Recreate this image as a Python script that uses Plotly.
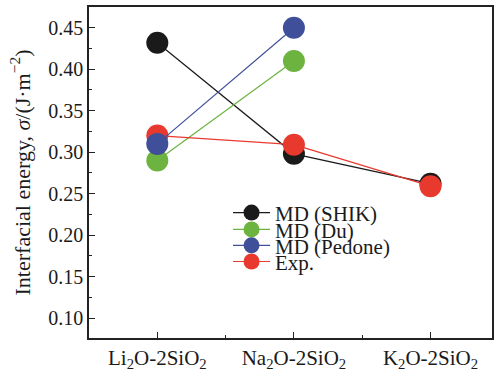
import plotly.graph_objects as go

categories = ["Li<sub>2</sub>O-2SiO<sub>2</sub>", "Na<sub>2</sub>O-2SiO<sub>2</sub>", "K<sub>2</sub>O-2SiO<sub>2</sub>"]
x_pos = [0, 1, 2]

shik = [0.432, 0.298, 0.262]
du = [0.290, 0.410]
pedone = [0.310, 0.450]
exp = [0.320, 0.309, 0.259]

y_ticks = [0.10, 0.15, 0.20, 0.25, 0.30, 0.35, 0.40, 0.45]

# (name, values, colour, legend id) - drawing order matters for overlap
series = [
    ("MD (SHIK)", shik, "#1a1a1a", "legend"),
    ("MD (Du)", du, "#6db33f", "legend2"),
    ("Exp.", exp, "#e8392f", "legend4"),
    ("MD (Pedone)", pedone, "#3f4f9a", "legend3"),
]

fig = go.Figure()
for name, vals, col, leg in series:
    fig.add_trace(go.Scatter(
        x=x_pos[:len(vals)], y=vals, name=name, mode="lines+markers",
        line=dict(color=col, width=1.2),
        marker=dict(color=col, size=22),
        legend=leg,
    ))

font_family = "Liberation Serif"
leg_rows = {"legend": 0.378, "legend2": 0.327, "legend3": 0.279, "legend4": 0.230}
legend_common = dict(x=0.345, xanchor="left", yanchor="middle",
                     bgcolor="rgba(0,0,0,0)", font=dict(size=21, family=font_family),
                     itemsizing="trace", itemwidth=37)

fig.update_layout(
    template="none",
    width=494, height=372,
    margin=dict(l=89, r=2, t=7, b=34, autoexpand=False),
    paper_bgcolor="white", plot_bgcolor="white",
    font=dict(family=font_family, color="#1a1a1a", size=20),
    showlegend=True,
    **{k: dict(y=v, **legend_common) for k, v in leg_rows.items()},
)
fig.update_xaxes(
    automargin=False,
    range=[-0.5, 2.45], tickmode="array", tickvals=x_pos, ticktext=categories,
    ticks="inside", ticklen=6, tickcolor="#222", tickwidth=1,
    tickfont=dict(size=21),
    showline=True, linecolor="#222", linewidth=1.5, mirror=True,
    showgrid=False, zeroline=False,
    minor=dict(tickmode="array", tickvals=[0.5, 1.5], ticks="inside", ticklen=3, tickcolor="#222"),
)
fig.update_yaxes(
    automargin=False,
    range=[0.076, 0.475], tickmode="array", tickvals=y_ticks,
    ticktext=[f"{v:.2f}" for v in y_ticks],
    ticks="inside", ticklen=6, tickcolor="#222", tickwidth=1,
    tickfont=dict(size=20),
    showline=True, linecolor="#222", linewidth=1.5, mirror=True,
    showgrid=False, zeroline=False,
    minor=dict(tickmode="array", tickvals=[0.125, 0.175, 0.225, 0.275, 0.325, 0.375, 0.425], ticks="inside", ticklen=3, tickcolor="#222"),
    title=dict(text="Interfacial energy, <i>σ</i>/(J·m<sup>−2</sup>)", font=dict(size=22), standoff=12),
)

fig.write_html("out.html", config={"displayModeBar": False},
               post_script="document.body.style.margin='0';")
